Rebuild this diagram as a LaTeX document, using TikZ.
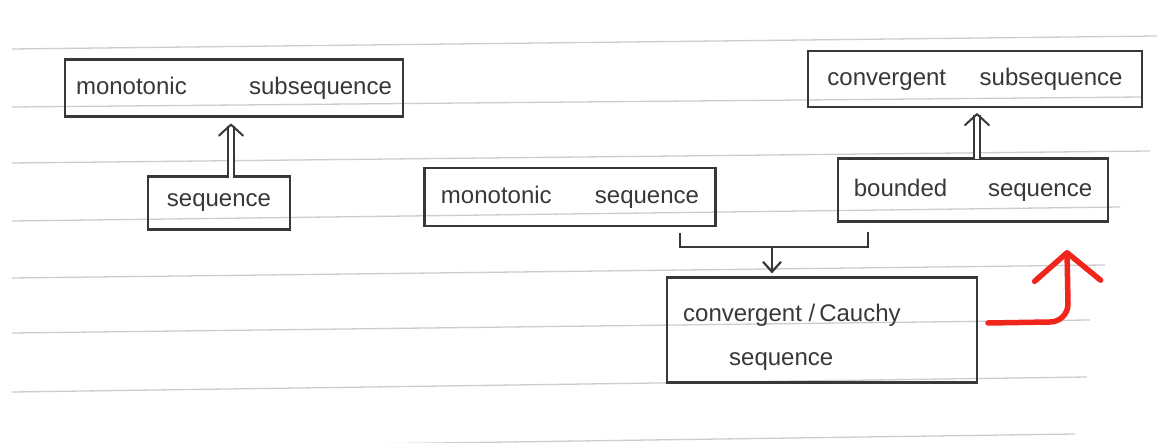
\documentclass[tikz,border=0pt]{standalone}
\usepackage{fontspec}
\setmainfont{Liberation Sans}
\usetikzlibrary{arrows.meta,calc}
\definecolor{ink}{HTML}{383838}
\definecolor{paperline}{HTML}{CDCDCD}
\definecolor{redink}{HTML}{F0261C}
\tikzset{
  box/.style={draw=ink, line width=2.2pt, text=ink, inner sep=0pt,
    font=\fontsize{24}{30}\selectfont},
  boxtext/.style={text=ink, inner sep=0pt, align=left, font=\fontsize{24}{30}\selectfont},
  dblshaft/.style={draw=ink, line width=1.8pt, double=white, double distance=3.6pt},
  dblhead/.style={draw=ink, line width=2pt, line cap=round,
    -{Straight Barb[round, length=11pt, width=24pt]}},
  conn/.style={draw=ink, line width=2.2pt},
  redarrow/.style={draw=redink, line width=5.5pt, line cap=round,
    -{Straight Barb[round, length=28pt, width=66pt]}},
  ruling/.style={draw=paperline, line width=1.3pt}
}
\begin{document}
\begin{tikzpicture}[x=1pt,y=-1pt]
\useasboundingbox[fill=white] (0,0) rectangle (1163,443);
\clip (0,0) rectangle (1163,443);
% ruled paper
\foreach \a/\b/\e in {49/36/1157, 107/97/1142, 163/151/1150, 221/207/1120, 278/265/1105, 333/320/1090, 392/377/1087, 449/434/1075}
  \draw[ruling] (12,\a) -- (\e,\b);
% boxes
\node[box, minimum width=338pt, minimum height=57pt] (A) at (234,88) {monotonic\hspace{2.6em}subsequence};
\node[box, minimum width=142pt, minimum height=53pt] (B) at (219,203) {sequence};
\node[box, minimum width=291pt, minimum height=58pt] (C) at (570,197) {monotonic\hspace{1.8em}sequence};
\node[box, minimum width=270pt, minimum height=63pt] (D) at (973,190) {bounded\hspace{1.7em}sequence};
\node[box, minimum width=334pt, minimum height=56pt] (E) at (975,79) {convergent\hspace{1.4em}subsequence};
\node[box, minimum width=310pt, minimum height=105pt] (F) at (822,330) {};
\node[boxtext, anchor=north west] (Ft) at (683,304)
  {convergent\;/\,Cauchy\\[14pt]\hspace*{46pt}sequence};
% implications (double arrows)
\coordinate (ab) at (231,0);
\draw[dblshaft, shorten >=8pt, shorten <=-3pt] (B.north -| ab) -- (A.south -| ab);
\draw[dblhead] ($(A.south -| ab)+(0,8)$) -- ($(A.south -| ab)+(0,6)$);
\coordinate (de) at (977,0);
\draw[dblshaft, shorten >=7pt, shorten <=-2pt] (D.north -| de) -- (E.south -| de);
\draw[dblhead] ($(E.south -| de)+(0,7)$) -- ($(E.south -| de)+(0,5)$);
% bracket joining monotonic + bounded
\coordinate (jL) at (680,0);
\coordinate (jM) at (772,247);
\coordinate (jR) at (868,0);
\draw[conn, shorten <=6pt] (C.south -| jL) |- (jM);
\draw[conn, shorten <=9pt] (D.south -| jR) |- (jM);
\draw[conn, -{Straight Barb[length=10pt, width=18pt]}, shorten >=3pt] (jM) -- (F.north -| jM);
% red arrow
\coordinate (r0) at (988,323);
\coordinate (r1) at (1050,322);
\coordinate (r2) at (1068,304);
\coordinate (rt) at (1067,250);
\draw[redarrow] (r0) -- (r1) to[out=0, in=-90] (r2) -- (rt);
\end{tikzpicture}
\end{document}
